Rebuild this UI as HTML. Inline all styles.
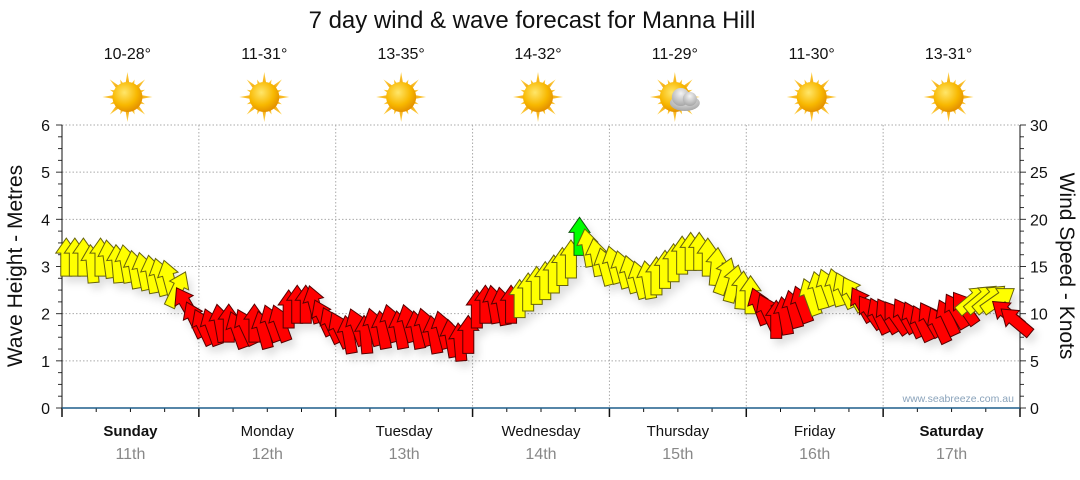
<!DOCTYPE html>
<html><head><meta charset="utf-8"><style>
body{margin:0;background:#fff;width:1080px;height:475px;overflow:hidden;font-family:"Liberation Sans",sans-serif}
</style></head><body>
<svg id="c" width="1080" height="475" viewBox="0 0 1080 475" xmlns="http://www.w3.org/2000/svg">
<defs>
<radialGradient id="sun" cx="0.4" cy="0.35" r="0.7"><stop offset="0" stop-color="#ffe66a"/><stop offset="0.6" stop-color="#f8b800"/><stop offset="1" stop-color="#e08a00"/></radialGradient>
<linearGradient id="ray" x1="0" y1="0" x2="0" y2="1"><stop offset="0" stop-color="#ffd24a"/><stop offset="1" stop-color="#f0a000"/></linearGradient>
<radialGradient id="cloud" cx="0.5" cy="0.3" r="0.8"><stop offset="0" stop-color="#f4f4f4"/><stop offset="1" stop-color="#9a9a9a"/></radialGradient>
<filter id="sh" x="-50%" y="-50%" width="200%" height="200%"><feDropShadow dx="4" dy="6" stdDeviation="4" flood-color="#000" flood-opacity="0.12"/></filter>
</defs>
<text x="532" y="28" text-anchor="middle" font-size="24" fill="#111">7 day wind &amp; wave forecast for Manna Hill</text>
<g id="grid"></g><g id="axes"></g><g id="icons"></g><g id="arrows" filter="url(#sh)"></g>
<text x="1014" y="402" text-anchor="end" font-size="10.5" fill="#8aa3bb">www.seabreeze.com.au</text>
<text transform="translate(22,266) rotate(-90)" text-anchor="middle" font-size="21" fill="#111">Wave Height - Metres</text>
<text transform="translate(1060,266) rotate(90)" text-anchor="middle" font-size="21" fill="#111">Wind Speed - Knots</text>
</svg>
<script>
const days=["Sunday","Monday","Tuesday","Wednesday","Thursday","Friday","Saturday"];
const dates=["11th","12th","13th","14th","15th","16th","17th"];
const temps=["10-28°","11-31°","13-35°","14-32°","11-29°","11-30°","13-31°"];
const weather=["sun","sun","sun","sun","cloud","sun","sun"];
const waveTicks=[0,1,2,3,4,5,6];
const windTicks=[0,5,10,15,20,25,30];
const windSpeed=[
16,16,16,15.3,16,15.8,15.3,15.3,14.7,14.5,14.2,13.9,13.7,12.6,11.0,9.4,
8.6,8.6,9.0,9.0,8.3,8.6,9.0,8.3,9.0,9.0,10.5,11.0,11.0,11.0,9.6,8.8,
8.3,7.8,8.6,7.8,8.6,8.3,9.0,8.3,9.0,8.3,8.6,7.8,8.3,7.4,7.0,7.8,
10.5,11.0,11.0,10.8,11.0,11.6,12.3,13.0,13.5,14.2,15.0,15.8,18.2,17.0,16.0,15.0,
15.2,14.7,14.2,13.6,13.6,14.0,14.7,15.4,16.2,16.6,16.6,16.0,15.0,14.0,13.2,12.5,
12.0,10.8,10.2,9.4,9.8,10.5,11.0,11.8,12.5,12.8,12.8,12.5,12.1,11.0,10.2,9.8,
9.8,9.6,9.8,9.4,9.0,9.4,8.8,9.6,10.3,10.6,11.5,11.6,11.6,11.5,10.0,9.2];
const windDir=[
0,0,0,-5,0,-8,-5,-10,-10,-12,-10,-15,-15,25,-30,-25,
-25,-20,-10,0,-20,-25,0,-15,-20,-20,0,0,0,-15,-25,-25,
-25,-10,-20,-5,-15,-10,-15,-10,-15,-10,-15,-10,-15,-10,-5,0,
0,0,-10,-10,0,0,0,0,0,0,0,0,0,-10,-10,-15,
-15,-15,-15,-15,-10,0,0,0,0,0,0,0,5,20,15,5,
0,-20,-25,0,-10,-15,-20,-20,-15,-20,-15,-25,-30,-30,-35,-25,
-30,-35,-30,-25,-25,-30,-25,-25,-30,-35,50,50,50,55,-50,-50];
const L=62,R=1020,T=125,B=408;
const xDay=d=>L+d*(R-L)/7;
const yWave=v=>B-(B-T)*v/6;
const yWind=v=>B-(B-T)*v/30;
const xIdx=i=>L+(i+0.5)*(R-L)/windSpeed.length;
const NS="http://www.w3.org/2000/svg";
function mk(tag,attrs,parent){const e=document.createElementNS(NS,tag);for(const k in attrs)e.setAttribute(k,attrs[k]);parent.appendChild(e);return e;}
const grid=document.getElementById('grid'),axes=document.getElementById('axes'),icons=document.getElementById('icons'),arrows=document.getElementById('arrows');
waveTicks.forEach(v=>{
  if(v>0){const g=mk('line',{x1:L,x2:R,y1:yWave(v),y2:yWave(v),stroke:'#aaa','stroke-dasharray':'1.5,2'},grid);
  
  }
  const t=mk('text',{x:L-12,y:yWave(v)+6,'text-anchor':'end','font-size':16,fill:'#111'},axes);t.textContent=v;
  
  
});
for(let v=0;v<=6;v+=0.25){mk('line',{x1:L-(v%1===0?6:4),x2:L,y1:yWave(v),y2:yWave(v),stroke:'#333'},axes);}
windTicks.forEach(v=>{
  const t=mk('text',{x:R+10,y:yWind(v)+6,'text-anchor':'start','font-size':16,fill:'#111'},axes);t.textContent=v;
  
  
});
for(let v=0;v<=30;v+=1.25){mk('line',{x1:R,x2:R+(v%5===0?6:4),y1:yWind(v),y2:yWind(v),stroke:'#333'},axes);}
for(let d=0;d<=7;d++){
  if(d>0&&d<7){const g=mk('line',{x1:xDay(d),x2:xDay(d),y1:T,y2:B,stroke:'#aaa','stroke-dasharray':'1.5,2'},grid);
  
  }
  mk('line',{x1:xDay(d),x2:xDay(d),y1:B,y2:B+9,stroke:'#111','stroke-width':1.5},axes);
  if(d<7)for(let q=1;q<4;q++)mk('line',{x1:xDay(d+q/4),x2:xDay(d+q/4),y1:B,y2:B+4,stroke:'#111'},axes);
}
mk('line',{x1:L,x2:L,y1:T,y2:B,stroke:'#111'},axes);
mk('line',{x1:R,x2:R,y1:T,y2:B,stroke:'#111'},axes);
mk('line',{x1:L,x2:R,y1:B,y2:B,stroke:'#1f5f8b','stroke-width':1.5},axes);
days.forEach((d,i)=>{
  const cx=xDay(i+0.5);
  const bold=(i===0||i===6);
  const t=mk('text',{x:cx,y:436,'text-anchor':'middle','font-size':15,fill:'#111','font-weight':bold?'bold':'normal'},axes);t.textContent=d;
  
  
  const t2=mk('text',{x:cx,y:459,'text-anchor':'middle','font-size':16,fill:'#888'},axes);t2.textContent=dates[i];
  
  
  const t3=mk('text',{x:cx-3,y:59,'text-anchor':'middle','font-size':16,fill:'#111'},icons);t3.textContent=temps[i];
  
  
  const g=mk('g',{transform:`translate(${cx-3},97)`},icons);
  
  
  for(let k=0;k<16;k++){const a=k*22.5,len=k%2?19:25;mk('polygon',{points:`-2.5,-10 0,-${len} 2.5,-10`,fill:'url(#ray)',transform:`rotate(${a})`},g);}
  mk('circle',{r:15,fill:'url(#sun)'},g);
  if(weather[i]==='cloud'){
    mk('ellipse',{cx:10,cy:6,rx:15,ry:8,fill:'url(#cloud)'},g);
    mk('circle',{cx:6,cy:0,r:9,fill:'url(#cloud)'},g);
    mk('circle',{cx:15,cy:2,r:7,fill:'url(#cloud)'},g);
  }
});
const shape="0,-19 10.5,-4 5.5,-4 5.5,19 -5.5,19 -5.5,-4 -10.5,-4";
windSpeed.forEach((v,i)=>{
  const col=v>=18?'#00ff00':(v>11.1?'#ffff00':'#ff0000');
  const stroke=v>=18?'#115511':(v>11.1?'#66620a':'#550000');
  const p=mk('polygon',{points:shape,fill:col,stroke:stroke,'stroke-width':1,transform:`translate(${xIdx(i)},${yWind(v)}) rotate(${windDir[i]})`},arrows);
  
  
});
</script>
</body></html>
